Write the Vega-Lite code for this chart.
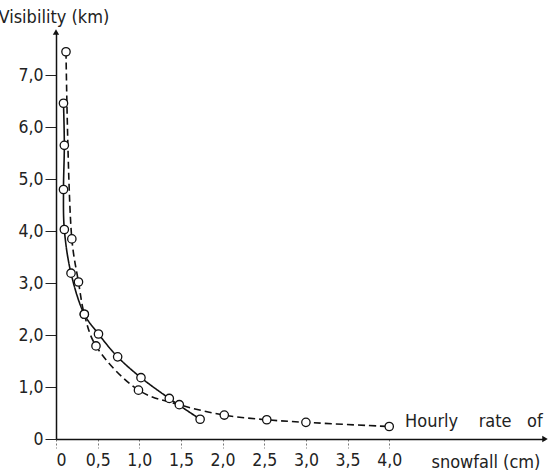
{
  "$schema": "https://vega.github.io/schema/vega-lite/v6.json",
  "width": 489,
  "height": 407,
  "autosize": {"type": "none"},
  "padding": {"left": 56, "top": 32, "right": 5, "bottom": 35},
  "background": "white",
  "config": {
    "view": {"stroke": null},
    "font": "DejaVu Sans Condensed",
    "axis": {
      "grid": false,
      "domainColor": "#111",
      "domainWidth": 1.5,
      "labelFont": "DejaVu Sans Condensed",
      "labelFontSize": 17.5,
      "labelColor": "#222",
      "titleFont": "DejaVu Sans Condensed",
      "titleFontSize": 18,
      "titleFontWeight": "normal",
      "titleColor": "#222"
    }
  },
  "datasets": {
    "curves": [
      {"series": "solid", "ord": 1, "x": 0.09, "y": 6.46},
      {"series": "solid", "ord": 2, "x": 0.10, "y": 5.65},
      {"series": "solid", "ord": 3, "x": 0.09, "y": 4.80},
      {"series": "solid", "ord": 4, "x": 0.10, "y": 4.03},
      {"series": "solid", "ord": 5, "x": 0.18, "y": 3.19},
      {"series": "solid", "ord": 6, "x": 0.34, "y": 2.40},
      {"series": "solid", "ord": 7, "x": 0.51, "y": 2.02},
      {"series": "solid", "ord": 8, "x": 0.74, "y": 1.58},
      {"series": "solid", "ord": 9, "x": 1.02, "y": 1.18},
      {"series": "solid", "ord": 10, "x": 1.36, "y": 0.78},
      {"series": "solid", "ord": 11, "x": 1.73, "y": 0.38},
      {"series": "dashed", "ord": 1, "x": 0.12, "y": 7.45},
      {"series": "dashed", "ord": 2, "x": 0.19, "y": 3.85},
      {"series": "dashed", "ord": 3, "x": 0.27, "y": 3.02},
      {"series": "dashed", "ord": 4, "x": 0.34, "y": 2.40},
      {"series": "dashed", "ord": 5, "x": 0.48, "y": 1.79},
      {"series": "dashed", "ord": 6, "x": 0.99, "y": 0.94},
      {"series": "dashed", "ord": 7, "x": 1.48, "y": 0.66},
      {"series": "dashed", "ord": 8, "x": 2.02, "y": 0.46},
      {"series": "dashed", "ord": 9, "x": 2.53, "y": 0.37},
      {"series": "dashed", "ord": 10, "x": 3.0, "y": 0.32},
      {"series": "dashed", "ord": 11, "x": 4.0, "y": 0.24}
    ],
    "notes": [
      {"label": "Hourly\u00a0\u00a0\u00a0 rate\u00a0\u00a0 of", "x": 4.19, "y": 0.33}
    ],
    "arrows": [
      {"dir": "up", "x": 0, "y": 7.83},
      {"dir": "right", "x": 5.87, "y": 0}
    ]
  },
  "layer": [
    {
      "data": {"name": "curves"},
      "mark": {"type": "line", "color": "#111", "strokeWidth": 1.6, "interpolate": "catmull-rom"},
      "encoding": {
        "x": {
          "field": "x", "type": "quantitative",
          "scale": {"domain": [0, 5.87], "nice": false, "zero": false},
          "axis": {
            "values": [0, 0.5, 1, 1.5, 2, 2.5, 3, 3.5, 4],
            "labelExpr": "datum.value == 0 ? '0' : replace(format(datum.value, '.1f'), '.', ',')",
            "tickSize": 9,
            "tickDash": [2, 2],
            "tickColor": "#777",
            "labelPadding": 3,
            "title": "snowfall (cm)",
            "titleAnchor": "start",
            "titleAlign": "left",
            "titleBaseline": "middle",
            "titleX": 375,
            "titleY": 23
          }
        },
        "y": {
          "field": "y", "type": "quantitative",
          "scale": {"domain": [0, 7.83], "nice": false, "zero": false},
          "axis": {
            "values": [0, 1, 2, 3, 4, 5, 6, 7],
            "labelExpr": "datum.value == 0 ? '0' : replace(format(datum.value, '.1f'), '.', ',')",
            "tickSize": 11,
            "tickColor": "#222",
            "labelPadding": 2,
            "title": "Visibility (km)",
            "titleAngle": 0,
            "titleAlign": "left",
            "titleBaseline": "middle",
            "titleX": -58,
            "titleY": -15
          }
        },
        "detail": {"field": "series"},
        "order": {"field": "ord", "type": "quantitative"},
        "strokeDash": {
          "field": "series", "type": "nominal",
          "scale": {"domain": ["solid", "dashed"], "range": [[1, 0], [7, 4]]},
          "legend": null
        }
      }
    },
    {
      "data": {"name": "curves"},
      "mark": {"type": "point", "shape": "circle", "filled": false, "fill": "white", "fillOpacity": 1, "stroke": "#111", "strokeWidth": 1.3, "size": 70, "opacity": 1},
      "encoding": {
        "x": {"field": "x", "type": "quantitative"},
        "y": {"field": "y", "type": "quantitative"}
      }
    },
    {
      "data": {"name": "notes"},
      "mark": {"type": "text", "align": "left", "baseline": "middle", "fontSize": 18, "color": "#222", "font": "DejaVu Sans Condensed"},
      "encoding": {
        "x": {"field": "x", "type": "quantitative"},
        "y": {"field": "y", "type": "quantitative"},
        "text": {"field": "label"}
      }
    },
    {
      "data": {"name": "arrows"},
      "mark": {"type": "point", "filled": true, "color": "#111", "size": 40, "opacity": 1},
      "encoding": {
        "x": {"field": "x", "type": "quantitative"},
        "y": {"field": "y", "type": "quantitative"},
        "shape": {
          "field": "dir", "type": "nominal",
          "scale": {"domain": ["up", "right"], "range": ["triangle-up", "triangle-right"]},
          "legend": null
        }
      }
    }
  ]
}
